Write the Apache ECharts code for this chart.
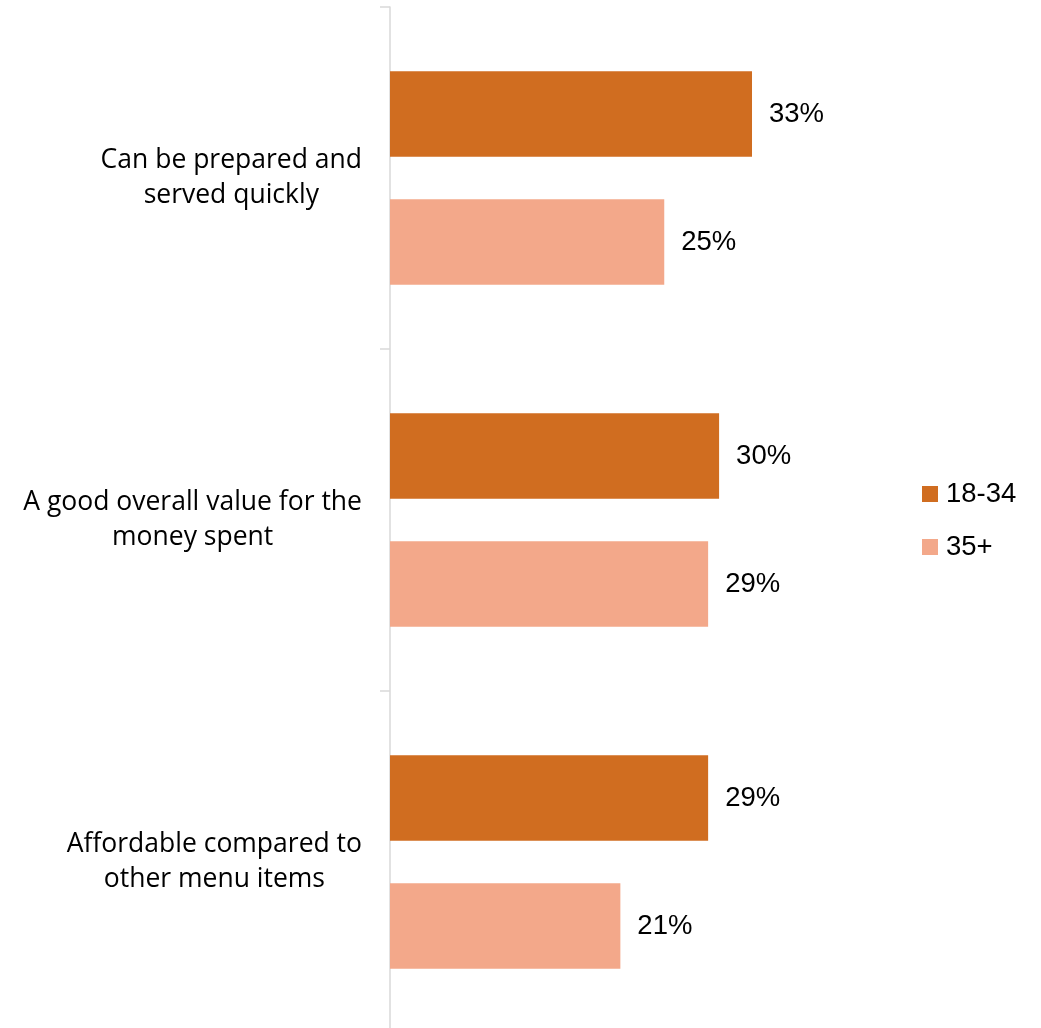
<!DOCTYPE html>
<html>
<head>
<meta charset="utf-8">
<script src="https://cdn.jsdelivr.net/npm/echarts@6/dist/echarts.min.js"></script>
<style>
  html, body { margin: 0; padding: 0; background: #ffffff; }
  #chart { width: 1041px; height: 1028px; }
</style>
</head>
<body>
<div id="chart"></div>
<script>
// Reasons chosen, by age group
const categories = [
  'Can be prepared and\nserved quickly',
  'A good overall value for the\nmoney spent',
  'Affordable compared to\nother menu items'
];
const seriesNames = ['18-34', '35+'];
const young = [33, 30, 29];
const older = [25, 29, 21];

const colors = ['#D06D20', '#F3A88A'];
const labelFont = '"Liberation Sans", Arial, sans-serif';
const catFont = '"Open Sans", "Noto Sans", sans-serif';

const chart = echarts.init(document.getElementById('chart'));

function barSeries(name, values, color) {
  return {
    name: name,
    type: 'bar',
    data: values,
    barWidth: 85.5,
    barGap: '49.7%',
    itemStyle: { color: color },
    label: {
      show: true,
      position: 'right',
      distance: 17,
      formatter: p => p.value + '%',
      color: '#000000',
      fontFamily: labelFont,
      fontSize: 27.5
    }
  };
}

chart.setOption({
  animation: false,
  backgroundColor: '#ffffff',
  grid: {
    left: 390,
    top: 7,
    width: 438.8,
    height: 1026,
    containLabel: false,
    outerBoundsMode: 'none'
  },
  legend: {
    orient: 'vertical',
    left: 922,
    top: 480,
    padding: 0,
    itemWidth: 16,
    itemHeight: 16,
    itemGap: 25,
    icon: 'rect',
    textStyle: { color: '#000000', fontFamily: labelFont, fontSize: 27.5, padding: [0, 0, 0, 3] },
    data: seriesNames
  },
  xAxis: {
    type: 'value',
    min: 0,
    max: 40,
    show: false
  },
  yAxis: {
    type: 'category',
    inverse: true,
    data: categories,
    axisLine: { show: true, lineStyle: { color: '#d9d9d9', width: 1.5 } },
    axisTick: { show: true, length: 10, lineStyle: { color: '#d9d9d9', width: 1.5 } },
    axisLabel: {
      margin: 28,
      formatter: v => v.split('\n').map(s => '{c|' + s + '}').join('\n'),
      rich: {
        c: {
          align: 'center',
          fontFamily: catFont,
          fontSize: 26.5,
          lineHeight: 35,
          color: '#000000'
        }
      }
    }
  },
  series: [
    barSeries(seriesNames[0], young, colors[0]),
    barSeries(seriesNames[1], older, colors[1])
  ]
});
</script>
</body>
</html>
